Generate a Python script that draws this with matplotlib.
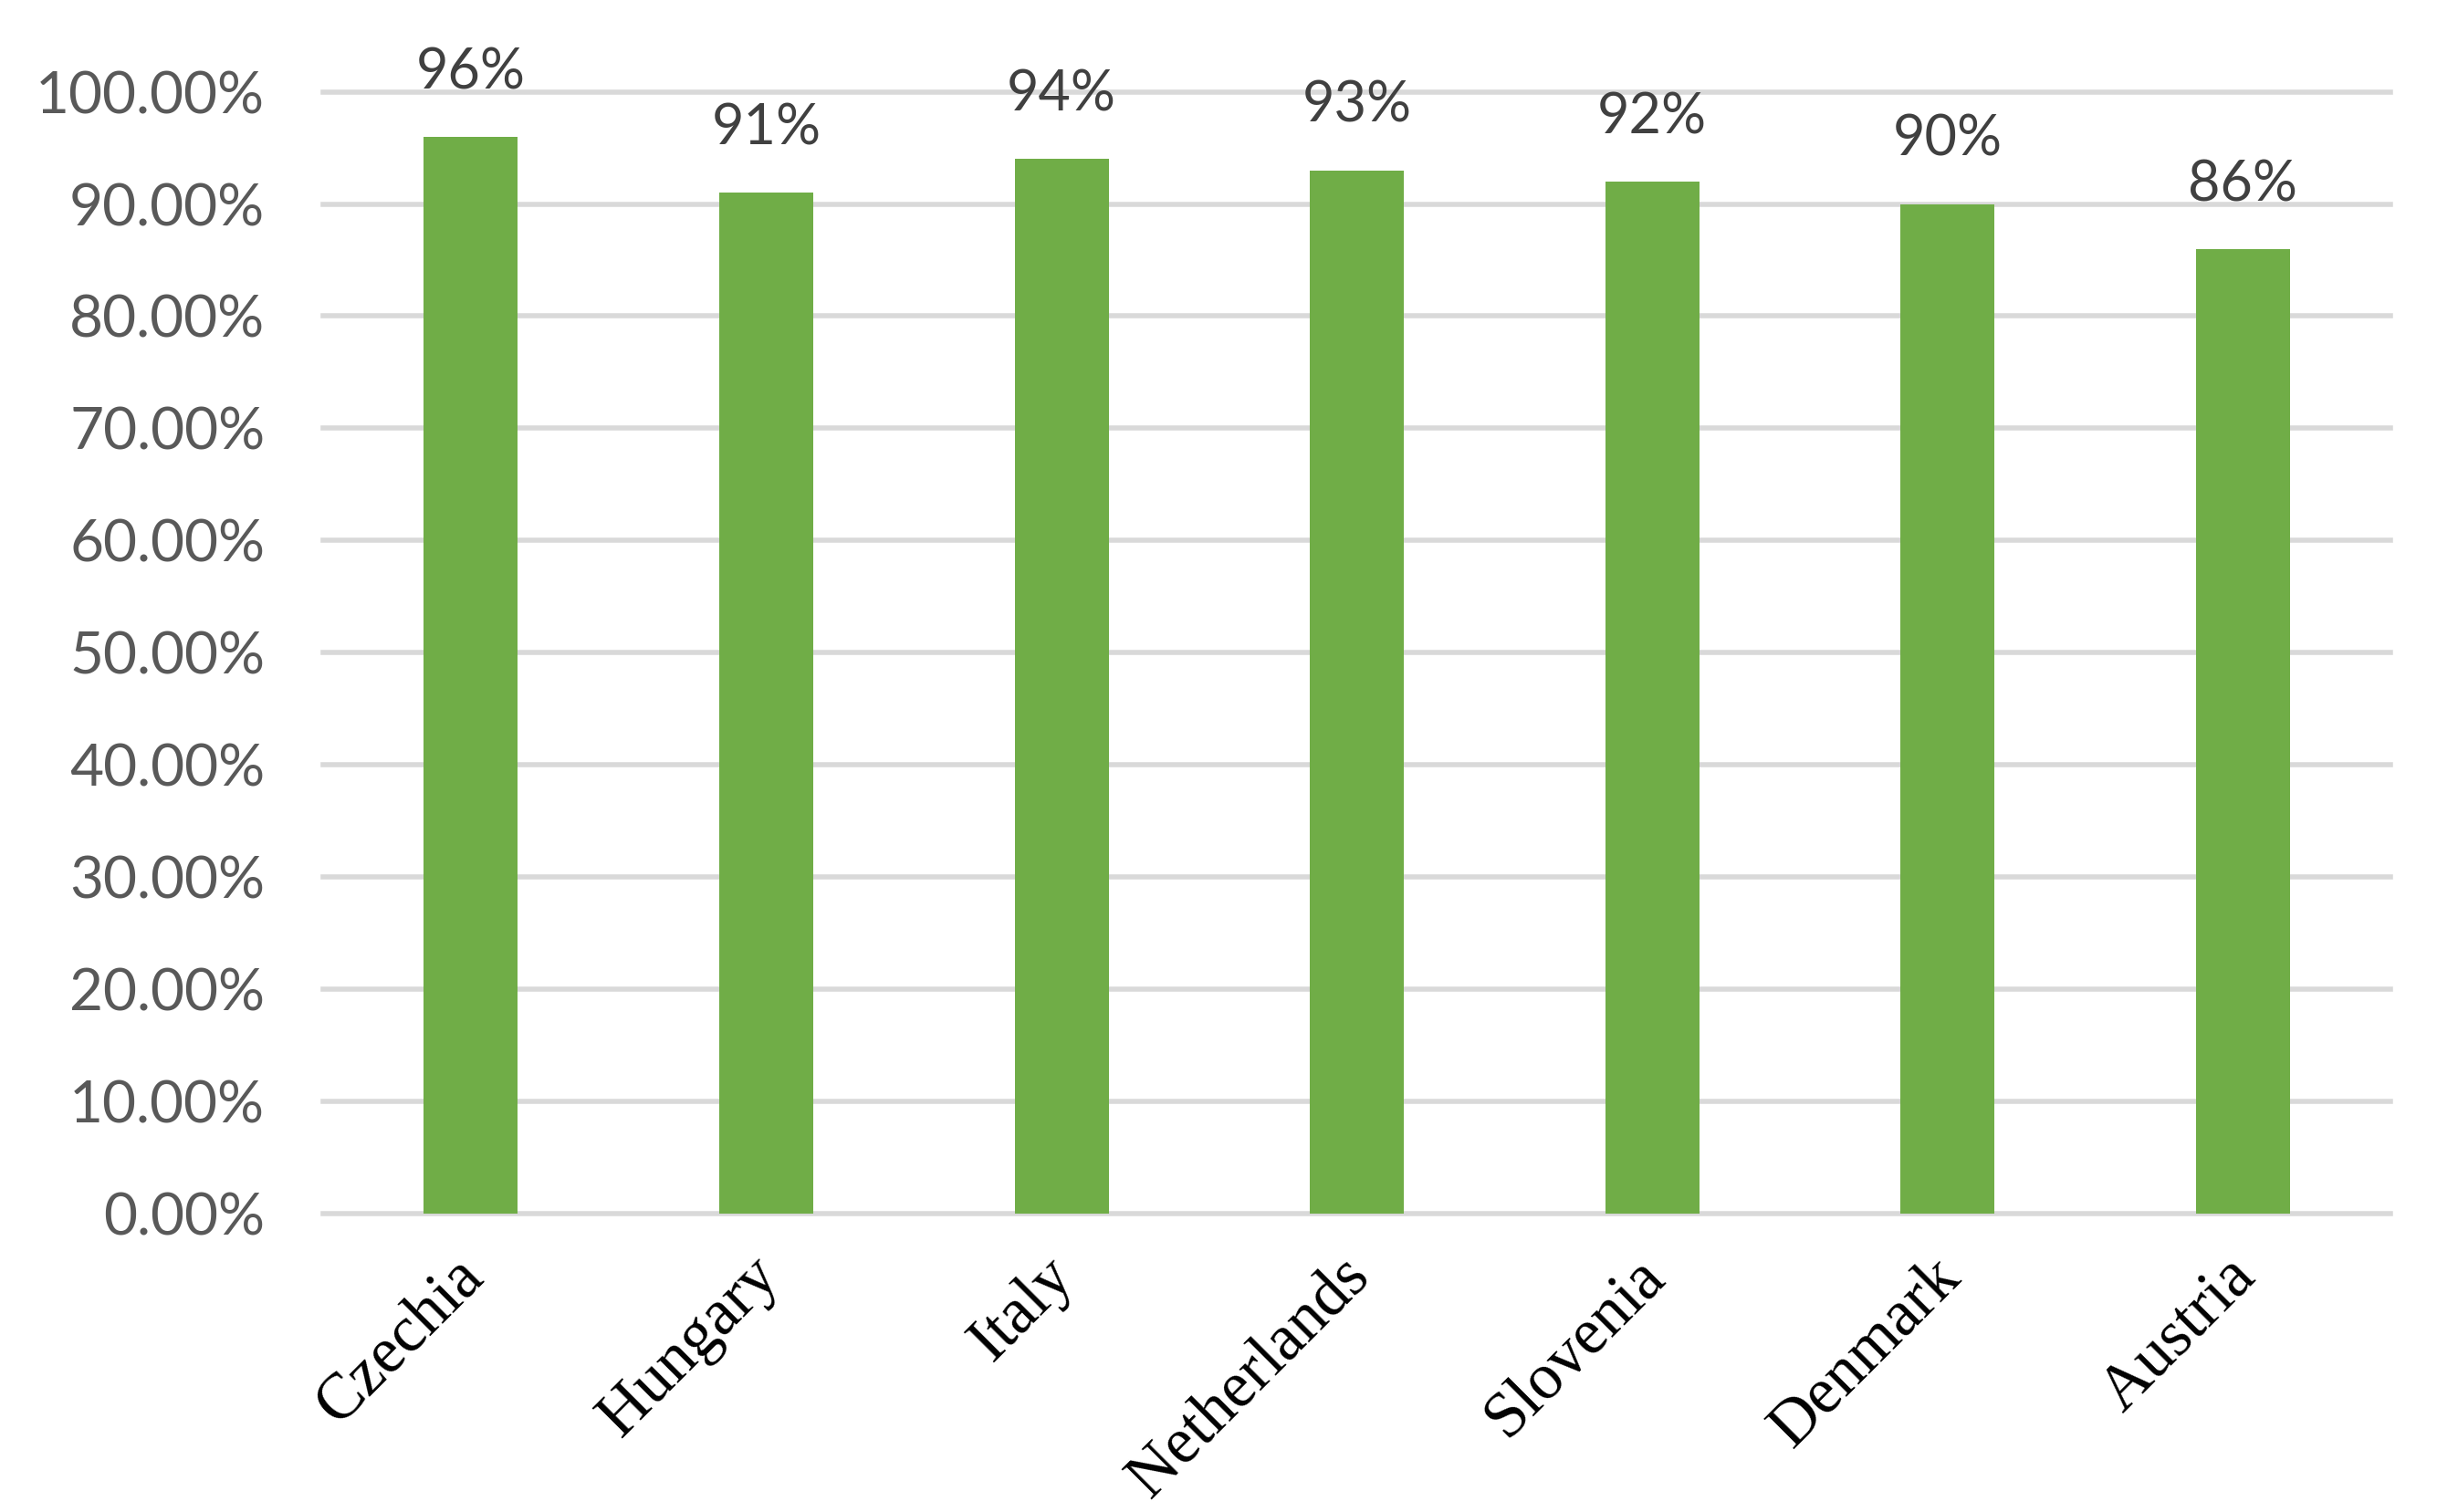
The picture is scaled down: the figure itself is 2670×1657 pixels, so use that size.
import matplotlib
matplotlib.use("Agg")
import matplotlib.pyplot as plt
import matplotlib.transforms as mtransforms
from matplotlib.ticker import FuncFormatter, MultipleLocator

countries = ["Czechia", "Hungary", "Italy", "Netherlands", "Slovenia", "Denmark", "Austria"]
shares = [0.96, 0.91, 0.94, 0.93, 0.92, 0.90, 0.86]
labels = ["96%", "91%", "94%", "93%", "92%", "90%", "86%"]

fig = plt.figure(figsize=(26.7, 16.57), dpi=100)
ax = fig.add_axes([0.1326, 0.1973, 0.981 - 0.1326, 0.9393 - 0.1973])

x = range(len(countries))
ax.bar(x, shares, width=0.318, color="#70AD47", zorder=3)

# etiquettes de valeurs
for xi, v, lab in zip(x, shares, labels):
    ax.annotate(lab, (xi, v), xytext=(0, 30), textcoords="offset points",
                ha="center", va="bottom", fontsize=44, color="#404040",
                family="Lato")

ax.set_xlim(-0.5, len(countries) - 0.5)
ax.set_ylim(0, 1.0)
ax.yaxis.set_major_locator(MultipleLocator(0.1))
ax.yaxis.set_major_formatter(FuncFormatter(lambda v, p: f"{v*100:.2f}%"))
ax.grid(axis="y", color="#D9D9D9", linewidth=4, zorder=0)
for line in ax.get_ygridlines():
    line.set_clip_on(False)

for s in ["top", "right", "left", "bottom"]:
    ax.spines[s].set_visible(False)

ax.tick_params(axis="y", length=0, pad=46, labelsize=46, labelcolor="#595959")
for t in ax.get_yticklabels():
    t.set_family("Lato")
ax.tick_params(axis="x", length=0, pad=26)
ax.set_xticks(list(x))
ax.set_xticklabels(countries, rotation=45, ha="right", rotation_mode="anchor",
                   fontsize=51, family="Liberation Serif", color="black")
decal = mtransforms.ScaledTranslation(-14 / 72, 0, fig.dpi_scale_trans)
for t in ax.get_xticklabels():
    t.set_transform(t.get_transform() + decal)

fig.savefig("out.png", dpi=100)
